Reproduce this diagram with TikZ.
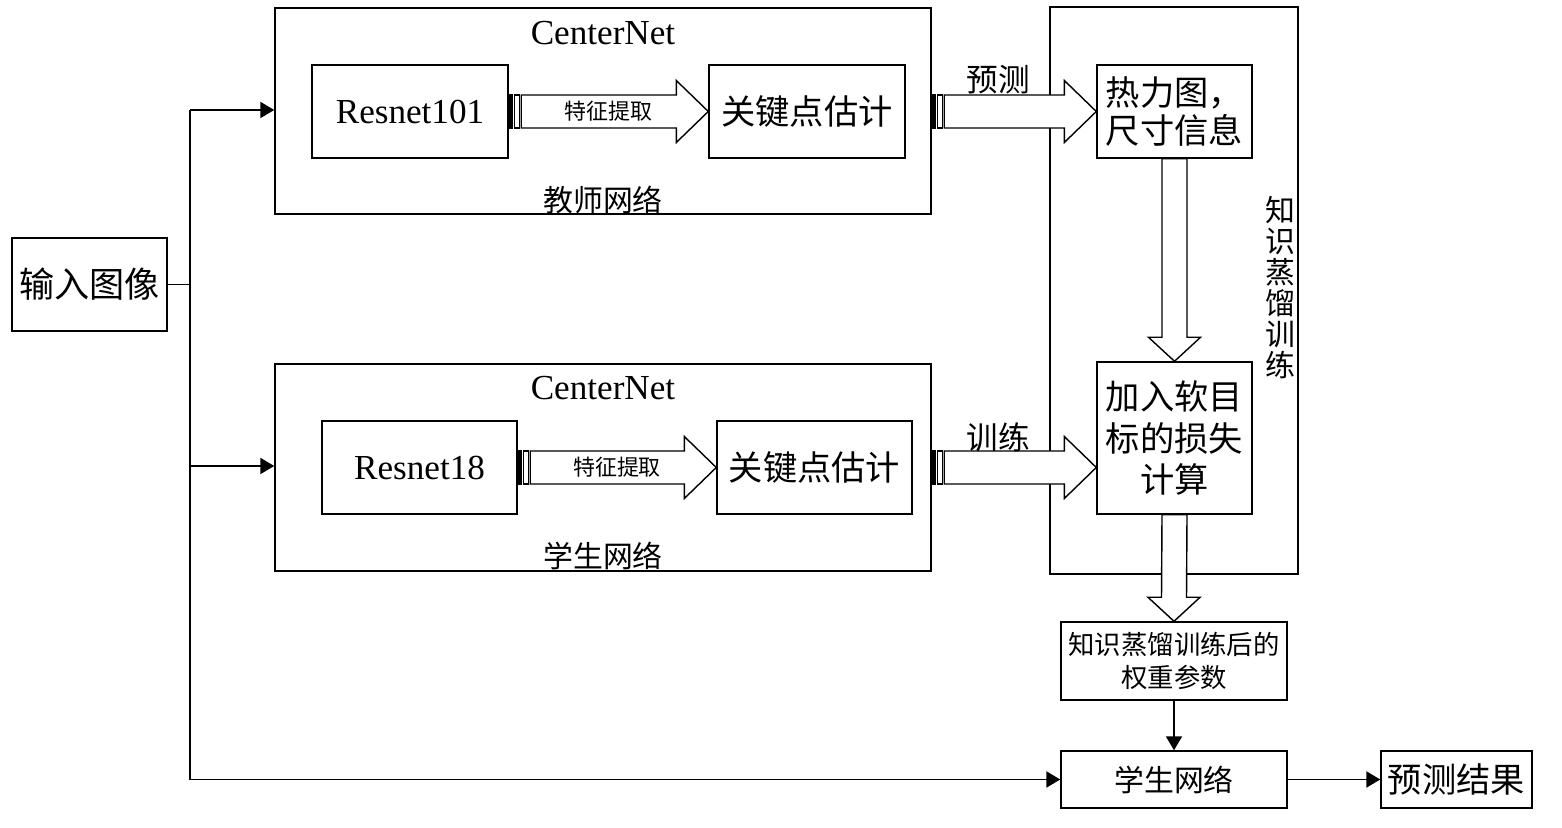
\documentclass[tikz,border=0pt]{standalone}
\usepackage{fontspec}
\setmainfont{Liberation Serif}
\newfontfamily\cjk{Noto Sans CJK SC}
\usetikzlibrary{arrows.meta,calc}

%% striped block arrow, left to right
\newcommand{\fatright}[2]{
  \draw [line width=0.8pt,fill=black] ($(#1)+(0,-0.33)$) rectangle ($(#1)+(0.07,0.33)$);
  \draw [line width=0.8pt,fill=white] ($(#1)+(0.11,-0.33)$) rectangle ($(#1)+(0.22,0.33)$);
  \draw [line width=0.8pt,fill=white] ($(#1)+(0.25,0.33)$) -- ($(#2)+(-0.64,0.33)$)
    -- ($(#2)+(-0.64,0.62)$) -- (#2) -- ($(#2)+(-0.64,-0.62)$)
    -- ($(#2)+(-0.64,-0.33)$) -- ($(#1)+(0.25,-0.33)$) -- cycle;
}
%% block arrow, top to bottom
\newcommand{\fatdown}[2]{
  \draw [line width=0.8pt,fill=white] ($(#1)+(-0.25,0)$) -- ($(#2)+(-0.25,0.48)$)
    -- ($(#2)+(-0.52,0.48)$) -- (#2) -- ($(#2)+(0.52,0.48)$)
    -- ($(#2)+(0.25,0.48)$) -- ($(#1)+(0.25,0)$) -- cycle;
}

\begin{document}
\begin{tikzpicture}[
    box/.style={draw, line width=0.8pt, inner sep=0pt, align=center},
    zh/.style 2 args={font=\cjk\fontsize{#1}{#2}\selectfont},
    en/.style={font=\fontsize{20}{24}\selectfont},
    tip/.style={line width=1.1pt, -{Triangle[length=0.28cm,width=0.32cm]}}
  ]
      \useasboundingbox (0,0) rectangle (31.24,16.54);
      \node (inp) [box, zh={20}{24}, minimum width=3.1cm, minimum height=1.86cm] at (1.79,10.85) {输入图像};
%%
      \node (tnet) [box, minimum width=13.12cm, minimum height=4.12cm] at (12.06,14.32) {};
      \node (tcn) [en] at (12.06,15.88) {CenterNet};
      \node (tlab) [zh={17}{20}] at (12.06,12.54) {教师网络};
      \node (res101) [box, en, minimum width=3.92cm, minimum height=1.86cm] at (8.2,14.31) {Resnet101};
      \node (tkey) [box, zh={19.5}{23}, minimum width=3.92cm, minimum height=1.86cm] at (16.14,14.31) {关键点估计};
%%
      \node (snet) [box, minimum width=13.12cm, minimum height=4.14cm] at (12.06,7.19) {};
      \node (scn) [en] at (12.06,8.78) {CenterNet};
      \node (slab) [zh={17}{20}] at (12.06,5.42) {学生网络};
      \node (res18) [box, en, minimum width=3.9cm, minimum height=1.86cm] at (8.39,7.19) {Resnet18};
      \node (skey) [box, zh={19.5}{23}, minimum width=3.9cm, minimum height=1.86cm] at (16.29,7.19) {关键点估计};
%%
      \node (kd) [box, minimum width=4.96cm, minimum height=11.34cm] at (23.48,10.73) {};
      \node (kdlab) [zh={17}{17.6}, align=center] at (25.6,10.79) {知\\识\\蒸\\馏\\训\\练};
      \node (heat) [box, zh={19.5}{22}, minimum width=3.1cm, minimum height=1.86cm] at (23.49,14.31) {热力图，\\尺寸信息};
      \node (loss) [box, zh={19.5}{23.6}, minimum width=3.1cm, minimum height=3.04cm] at (23.49,7.78) {加入软目\\标的损失\\计算};
      \node (wts) [box, zh={15}{18.8}, minimum width=4.52cm, minimum height=1.56cm] at (23.48,3.32) {知识蒸馏训练后的\\权重参数};
      \node (stu) [box, zh={17}{20}, minimum width=4.52cm, minimum height=1.14cm] at (23.48,0.95) {学生网络};
      \node (res) [box, zh={19.5}{23}, minimum width=3.02cm, minimum height=1.14cm] at (29.13,0.95) {预测结果};
%%
      \coordinate (top) at (3.8,14.34);
      \coordinate (mid) at (3.8,7.22);
      \coordinate (bot) at (3.8,0.95);
      \draw [line width=1.1pt] (inp.east) -- (inp.east -| top);
      \draw [line width=1.1pt] (top) -- (bot);
      \draw [tip] (top) -- (top -| tnet.west);
      \draw [tip] (mid) -- (mid -| snet.west);
      \draw [tip] (bot) -- (bot -| stu.west);
      \draw [tip] (wts.south) -- (stu.north);
      \draw [tip] (stu.east) -- (res.west);
%%
      \fatright{res101.east}{tkey.west}
      \fatright{res18.east}{skey.west}
      \fatright{tnet.east |- tkey}{heat.west}
      \fatright{snet.east |- skey}{loss.west |- skey}
      \fatdown{heat.south}{loss.north}
      \fatdown{loss.south}{wts.north}
      \node (tfeat) [zh={12.5}{15}] at ($(res101.east)!0.5!(tkey.west)$) {特征提取};
      \node (sfeat) [zh={12.5}{15}] at ($(res18.east)!0.5!(skey.west)$) {特征提取};
      \node (pred) [zh={18}{21}] at (19.96,14.94) {预测};
      \node (train) [zh={18}{21}] at (19.96,7.8) {训练};
\end{tikzpicture}
\end{document}
